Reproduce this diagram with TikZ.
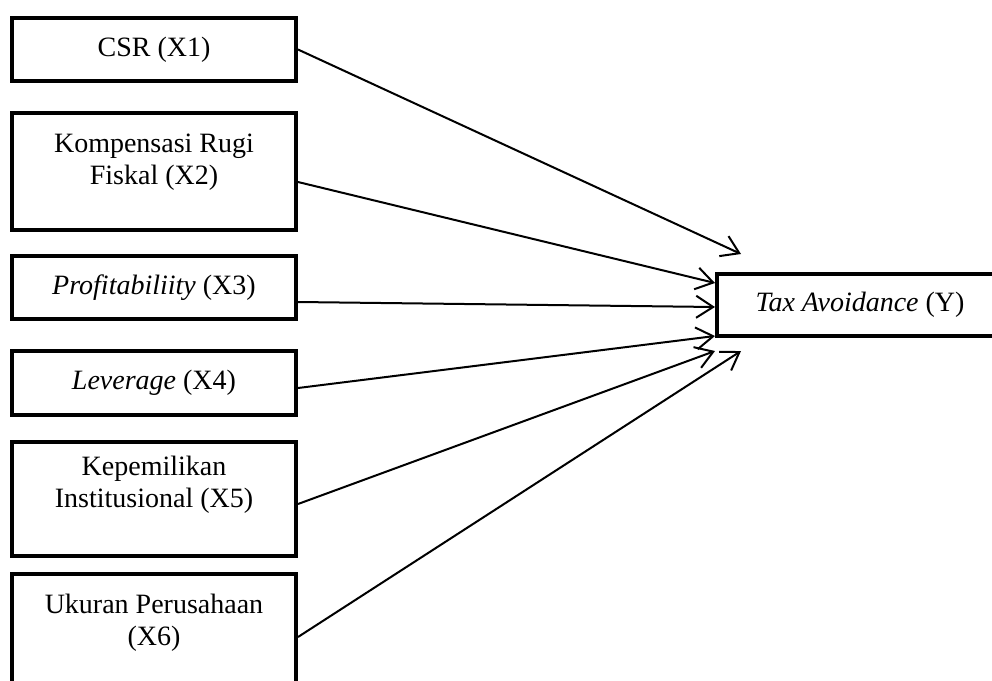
\documentclass[tikz,border=0pt]{standalone}
\usepackage{fontspec}
\setmainfont{Liberation Serif}
\usetikzlibrary{arrows.meta}

\begin{document}
\begin{tikzpicture}[x=1pt, y=-1pt,
    varbox/.style={draw, line width=4pt, inner sep=0pt, align=center,
        minimum width=284pt, font=\fontsize{28}{32}\selectfont},
    link/.style={line width=2pt, -{Straight Barb[length=17pt, width=22pt, line width=2pt]}}]
    \useasboundingbox (0,0) rectangle (992,680);

    \node[varbox, minimum height=63pt] (x1) at (154,49.5) {CSR (X1)};
    \node[varbox, minimum height=117pt, text depth=25pt] (x2) at (154,171.5) {Kompensasi Rugi\\Fiskal (X2)};
    \node[varbox, minimum height=63pt] (x3) at (154,287.5) {\textit{Profitabiliity} (X3)};
    \node[varbox, minimum height=64pt] (x4) at (154,383) {\textit{Leverage} (X4)};
    \node[varbox, minimum height=114pt, text depth=35pt] (x5) at (154,499) {Kepemilikan\\Institusional (X5)};
    \node[varbox, minimum height=117pt, text depth=25pt] (x6) at (154,632.5) {Ukuran Perusahaan\\(X6)};

    \node[varbox, minimum width=286pt, minimum height=62pt] (ty) at (860,305) {\textit{Tax Avoidance} (Y)};

    \coordinate (in1) at ([xshift=26pt, yshift=51pt]ty.west);
    \coordinate (in2) at ([yshift=22pt]ty.west);
    \coordinate (in3) at ([yshift=-2pt]ty.west);
    \coordinate (in4) at ([yshift=-31pt]ty.west);
    \coordinate (in5) at ([yshift=-46pt]ty.west);
    \coordinate (in6) at ([xshift=26pt, yshift=-46pt]ty.west);

    \draw[link] (x1.east) -- (in1);
    \draw[link] ([yshift=-10.5pt]x2.east) -- (in2);
    \draw[link] ([yshift=-14.5pt]x3.east) -- (in3);
    \draw[link] ([yshift=-5pt]x4.east) -- (in4);
    \draw[link] ([yshift=-5pt]x5.east) -- (in5);
    \draw[link] ([yshift=-4.5pt]x6.east) -- (in6);
\end{tikzpicture}
\end{document}
